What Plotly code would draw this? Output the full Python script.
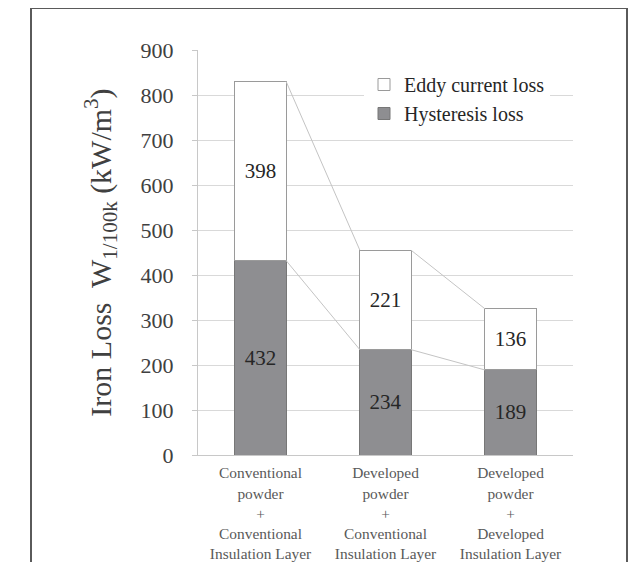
import plotly.graph_objects as go

categories = [
    "Conventional<br>powder<br>+<br>Conventional<br>Insulation Layer",
    "Developed<br>powder<br>+<br>Conventional<br>Insulation Layer",
    "Developed<br>powder<br>+<br>Developed<br>Insulation Layer",
]
hysteresis = [432, 234, 189]
eddy = [398, 221, 136]
y_ticks = [0, 100, 200, 300, 400, 500, 600, 700, 800, 900]

FONT = "Liberation Serif"
BAR_W = 0.41
xpos = list(range(len(categories)))
totals = [h + e for h, e in zip(hysteresis, eddy)]

fig = go.Figure()
fig.add_trace(go.Bar(
    x=xpos, y=hysteresis, name="Hysteresis loss", width=BAR_W,
    marker=dict(color="#8e8e91", line=dict(color="#777777", width=1)),
    text=[str(v) for v in hysteresis], textposition="inside", insidetextanchor="middle",
    textangle=0, insidetextfont=dict(family=FONT, size=21, color="#262626"),
))
fig.add_trace(go.Bar(
    x=xpos, y=eddy, name="Eddy current loss", width=BAR_W,
    marker=dict(color="#ffffff", line=dict(color="#9a9a9a", width=1)),
    text=[str(v) for v in eddy], textposition="inside", insidetextanchor="middle",
    textangle=0, insidetextfont=dict(family=FONT, size=21, color="#262626"),
))

# connector lines between adjacent bars
for series in (totals, hysteresis):
    for i in range(len(xpos) - 1):
        fig.add_trace(go.Scatter(
            x=[xpos[i] + BAR_W / 2, xpos[i + 1] - BAR_W / 2],
            y=[series[i], series[i + 1]],
            mode="lines", line=dict(color="#c4c4c4", width=1),
            showlegend=False, hoverinfo="skip",
        ))

OFF = 8  # page body margin
W, H = 621, 554
L, T = 198 - OFF, 50 - OFF
pw, ph = 375, 405
R = W - L - pw
B = H - T - ph

def px_x(p):
    return (p - OFF - L) / pw

def px_y(p):
    return (T + ph - (p - OFF)) / ph

fig.add_shape(type="rect", xref="paper", yref="paper",
              x0=px_x(31), x1=px_x(627), y0=px_y(590), y1=px_y(8),
              line=dict(color="#5a5a5a", width=2), fillcolor="rgba(0,0,0,0)", layer="below")

fig.update_layout(
    width=W, height=H,
    margin=dict(l=L, r=R, t=T, b=B, autoexpand=False),
    barmode="stack",
    plot_bgcolor="white", paper_bgcolor="white",
    font=dict(family=FONT, color="#404040"),
    showlegend=True,
    legend=dict(
        x=px_x(364), y=px_y(65), xanchor="left", yanchor="top",
        bgcolor="white", traceorder="reversed",
        font=dict(family=FONT, size=20, color="#262626"),
        itemwidth=30, tracegroupgap=0,
    ),
    xaxis=dict(
        range=[-0.5, 2.5], tickvals=xpos, ticktext=categories,
        showline=True, linecolor="#c8c8c8", linewidth=1,
        showgrid=False, zeroline=False, ticks="",
        tickfont=dict(family=FONT, size=15.4, color="#595959"),
        ticklabelstandoff=4,
        automargin=False,
    ),
    yaxis=dict(
        range=[0, 900], tickvals=y_ticks,
        showline=True, linecolor="#c8c8c8", linewidth=1,
        showgrid=True, gridcolor="#d9d9d9", gridwidth=1,
        zeroline=False, ticks="outside", ticklen=5, tickcolor="#c8c8c8",
        tickfont=dict(family=FONT, size=22, color="#404040"),
        ticklabelstandoff=14,
        title=dict(text="Iron Loss  W<sub>1/100k</sub> (kW/m<sup>3</sup>)",
                   font=dict(family=FONT, size=30, color="#404040"), standoff=20),
        automargin=False,
    ),
)

fig.write_html("out.html")
